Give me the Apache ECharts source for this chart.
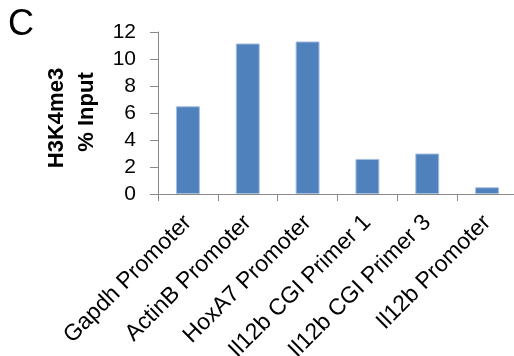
<!DOCTYPE html>
<html>
<head>
<meta charset="utf-8">
<script src="https://cdn.jsdelivr.net/npm/echarts@6/dist/echarts.min.js"></script>
<style>
  html, body { margin: 0; padding: 0; background: #ffffff; }
  #chart { width: 514px; height: 356px; }
</style>
</head>
<body>
<div id="chart"></div>
<script>
// H3K4me3 ChIP enrichment (% of input) at each amplicon
const categories = [
  'Gapdh Promoter',
  'ActinB Promoter',
  'HoxA7 Promoter',
  'Il12b CGI Primer 1',
  'Il12b CGI Primer 3',
  'Il12b Promoter'
];
const percentInput = [6.5, 11.15, 11.3, 2.6, 3.0, 0.5];
const yTicks = { min: 0, max: 12, step: 2 };

const FONT = '"Liberation Sans", Arial, sans-serif';
const AXIS_GREY = '#898989';

const chart = echarts.init(document.getElementById('chart'), null, { renderer: 'canvas' });

chart.setOption({
  animation: false,
  backgroundColor: '#ffffff',
  grid: {
    left: 158, top: 32, width: 359, bottom: 162,
    containLabel: false,
    outerBoundsMode: 'none'
  },
  xAxis: {
    type: 'category',
    data: categories,
    boundaryGap: true,
    axisLine: { show: true, lineStyle: { color: AXIS_GREY, width: 1 } },
    axisTick: { show: true, alignWithLabel: false, length: 7, lineStyle: { color: AXIS_GREY } },
    axisLabel: {
      interval: 0,
      rotate: 45,
      margin: 25,
      color: '#000000',
      fontFamily: FONT,
      fontSize: 23
    },
    splitLine: { show: false }
  },
  yAxis: {
    type: 'value',
    min: yTicks.min,
    max: yTicks.max,
    interval: yTicks.step,
    axisLine: { show: true, lineStyle: { color: AXIS_GREY, width: 1 } },
    axisTick: { show: true, length: 8, lineStyle: { color: AXIS_GREY } },
    axisLabel: {
      margin: 22,
      color: '#000000',
      fontFamily: FONT,
      fontSize: 21
    },
    splitLine: { show: false }
  },
  series: [{
    type: 'bar',
    data: percentInput,
    barWidth: '40%',
    itemStyle: {
      color: '#4f81bd',
      borderColor: '#a7bfdf',
      borderWidth: 1
    }
  }],
  graphic: [
    {
      type: 'text',
      left: 8, top: 7,
      style: { text: 'C', font: '36px ' + FONT, fill: '#000000' }
    },
    {
      type: 'text',
      x: 57, y: 118,
      rotation: Math.PI / 2,
      style: {
        text: 'H3K4me3',
        font: 'bold 22px ' + FONT,
        fill: '#000000',
        textAlign: 'center',
        textVerticalAlign: 'middle'
      }
    },
    {
      type: 'text',
      x: 87, y: 112,
      rotation: Math.PI / 2,
      style: {
        text: '% Input',
        font: 'bold 22px ' + FONT,
        fill: '#000000',
        textAlign: 'center',
        textVerticalAlign: 'middle'
      }
    }
  ]
});
</script>
</body>
</html>
